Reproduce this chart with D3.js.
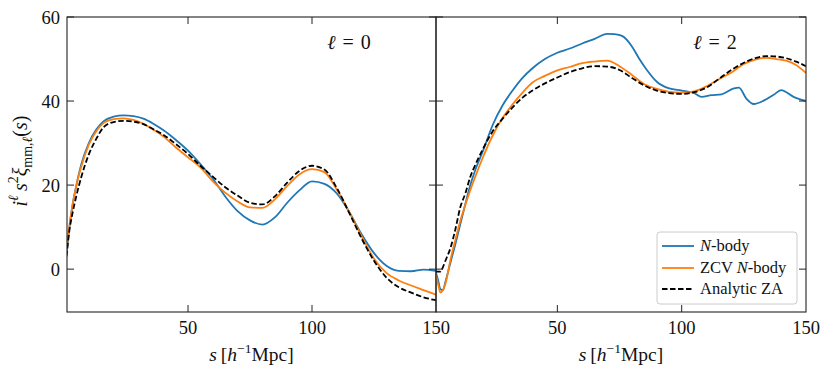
<!DOCTYPE html>
<html><head><meta charset="utf-8">
<script src="https://cdn.jsdelivr.net/npm/d3@7"></script>
<style>body{margin:0;background:#fff}svg{display:block}text{font-family:"Liberation Serif","DejaVu Serif",serif;fill:#111}</style>
</head><body><svg id="c" width="830" height="376"></svg>
<script>
// ---- data ----
const sMono = [1,2,3.5,5,7,10,13,16,20,24,28,32,36,40,45,50,55,60,65,70,75,80,85,90,95,100,105,110,115,120,125,130,135,140,145,150];
const nbodyMono = [3.5,9,15.5,20,25,30,33.2,35.2,36.3,36.6,36.4,35.8,34.6,33.1,30.8,28.2,25,21.5,17.3,13.8,11.6,10.6,12.3,15.8,18.8,20.9,20.3,18,13.6,8.3,3.8,0.8,-0.4,-0.5,-0.1,-0.4];
const zcvMono = [4,9.5,15.5,20,24.5,29.6,32.8,34.8,35.7,35.9,35.5,34.6,33.2,31.6,29,26.6,24.2,20.9,18.2,16.1,14.7,14.6,16.6,19.8,22.6,23.8,23.1,18.9,13.6,7.8,2.5,-0.9,-2.7,-3.9,-5,-6.1];
const zaMono = [3,8.5,13.5,17.5,22,27.3,31,33.8,35,35.3,35.1,34.5,33.3,32,29.8,27.4,24.6,22,19.5,17.5,15.8,15.4,17.3,20.6,23.4,24.6,23.7,19.3,13.4,7.3,2,-2,-4.3,-5.6,-6.7,-7.4];

const sNbodyQuad = [1,2,3,4,5,7,9,11,13,15,17,20,24,28,32,36,40,45,50,55,60,65,70,73,76,80,83,86,90,95,100,105,108,112,116,121,123,126,129,133,137,140,145,150];
const nbodyQuad = [-0.5,-2.5,-4.8,-5,-3,1.5,6,10.8,15.5,20,23.6,28,34.3,39,42.5,45.5,47.8,50,51.5,52.5,53.7,54.8,56,55.9,55.5,53,50,47.4,44.6,43,42.5,41.9,41,41.4,41.6,43,43.2,40.6,39.3,40.1,41.5,42.6,41,40];
const sQuad = [1,2,3,4,5,7,9,11,13,15,17,20,24,28,32,36,40,45,50,55,60,65,70,75,80,85,90,95,100,105,110,115,120,125,130,134,138,142,146,150];
const zcvQuad = [-1,-3.5,-5.6,-5,-3.5,2.2,7,11.6,15.3,18.8,22,26.5,31.8,36,39.2,42,44.4,46,47.3,48.1,49,49.4,49.6,48.3,46.2,44,42.9,42.2,42,42.3,43.5,45.2,46.8,48.8,49.9,50.3,50,49.6,48.6,46.7];
const zaQuad = [-0.5,-0.6,-0.6,0.5,2,5,9.5,14.8,18,22,24.8,28.5,32.8,35.8,38.5,40.8,42.5,44.2,45.6,46.9,47.8,48.3,48.2,47.4,45.5,43.7,42.5,41.9,41.7,42.1,43.2,45.3,47.4,49.1,50.3,50.7,50.6,50.2,49.4,48.3];

const xTicks = [50,100,150];
const yTicks = [0,20,40,60];
const panelLabels = ["0","2"];
const seriesNames = ["N-body","ZCV N-body","Analytic ZA"];
const colors = ["#1f77b4","#ff7f0e","#000000"];

// ---- layout ----
const svg = d3.select("#c");
const plotTop = 17, plotBottom = 312;
const panels = [
  {x0:67, x1:436, label:panelLabels[0], series:[[sMono,nbodyMono],[sMono,zcvMono],[sMono,zaMono]]},
  {x0:436, x1:806, label:panelLabels[1], series:[[sNbodyQuad,nbodyQuad],[sQuad,zcvQuad],[sQuad,zaQuad]]}
];
const y = d3.scaleLinear().domain([-10.2,60]).range([plotBottom,plotTop]);
const tickLen = 7;

panels.forEach((p,pi)=>{
  const x = d3.scaleLinear().domain([1.2,150]).range([p.x0,p.x1]);
  const g = svg.append("g");
  const cid = "clip"+pi;
  svg.append("clipPath").attr("id",cid).append("rect")
    .attr("x",p.x0).attr("y",plotTop).attr("width",p.x1-p.x0).attr("height",plotBottom-plotTop);
  const line = d3.line().curve(d3.curveMonotoneX).x(d=>x(d[0])).y(d=>y(d[1]));
  p.series.forEach((sr,si)=>{
    const pts = sr[0].map((s,i)=>[s,sr[1][i]]);
    g.append("path").attr("clip-path",`url(#${cid})`).attr("d",line(pts))
      .attr("fill","none").attr("stroke",colors[si]).attr("stroke-width",1.8)
      .attr("stroke-dasharray",si===2?"5.5,2.5":null);
  });
  g.append("rect").attr("x",p.x0).attr("y",plotTop).attr("width",p.x1-p.x0).attr("height",plotBottom-plotTop)
    .attr("fill","none").attr("stroke","#222").attr("stroke-width",1.1);
  const ax = g.append("g").attr("stroke","#222").attr("stroke-width",1);
  xTicks.forEach(t=>{
    if (t<150) {
      ax.append("line").attr("x1",x(t)).attr("x2",x(t)).attr("y1",plotBottom).attr("y2",plotBottom-tickLen);
      ax.append("line").attr("x1",x(t)).attr("x2",x(t)).attr("y1",plotTop).attr("y2",plotTop+tickLen);
    }
  });
  yTicks.forEach(t=>{
    ax.append("line").attr("x1",p.x0).attr("x2",p.x0+tickLen).attr("y1",y(t)).attr("y2",y(t));
    ax.append("line").attr("x1",p.x1).attr("x2",p.x1-tickLen).attr("y1",y(t)).attr("y2",y(t));
  });
  xTicks.forEach(t=>{
    g.append("text").attr("x",x(t)).attr("y",334).attr("text-anchor","middle")
      .attr("font-size",18.5).text(t);
  });
  const xl = g.append("text").attr("x",(p.x0+p.x1)/2).attr("y",361).attr("text-anchor","middle").attr("font-size",19.5);
  xl.append("tspan").attr("font-style","italic").text("s");
  xl.append("tspan").text("\u2009[");
  xl.append("tspan").attr("font-style","italic").text("h");
  xl.append("tspan").attr("font-size",13.5).attr("dy",-8).text("\u22121");
  xl.append("tspan").attr("dy",8).text("Mpc]");
  const pl = g.append("text").attr("x",p.x0+(pi===0?282:279)).attr("y",49).attr("text-anchor","middle")
    .attr("font-size",20).attr("word-spacing","2px");
  pl.append("tspan").attr("font-style","italic").text("\u2113");
  pl.append("tspan").text(" = " + p.label);
});

yTicks.forEach(t=>{
  svg.append("text").attr("x",60).attr("y",y(t)+6.5).attr("text-anchor","end").attr("font-size",18.5).text(t);
});

const yl = svg.append("text").attr("transform","translate(27,161) rotate(-90)").attr("text-anchor","middle").attr("font-size",20);
yl.append("tspan").attr("font-style","italic").text("i");
yl.append("tspan").attr("font-style","italic").attr("font-size",14).attr("dy",-9).text("\u2113");
yl.append("tspan").attr("font-style","italic").attr("dy",9).text("\u2009s");
yl.append("tspan").attr("font-size",14).attr("dy",-9).text("2");
yl.append("tspan").attr("font-style","italic").attr("dy",9).text("\u03be");
yl.append("tspan").attr("font-size",14).attr("dy",5).text("mm,");
yl.append("tspan").attr("font-size",14).attr("font-style","italic").text("\u2113");
yl.append("tspan").attr("dy",-5).text("(");
yl.append("tspan").attr("font-style","italic").text("s");
yl.append("tspan").text(")");

const lg = svg.append("g");
lg.append("rect").attr("x",657).attr("y",232).attr("width",140).attr("height",72).attr("rx",3)
  .attr("fill","#fff").attr("fill-opacity",0.85).attr("stroke","#ccc").attr("stroke-width",1);
const rowsY = [246,268,289];
seriesNames.forEach((n,i)=>{
  lg.append("line").attr("x1",662).attr("x2",694).attr("y1",rowsY[i]).attr("y2",rowsY[i])
    .attr("stroke",colors[i]).attr("stroke-width",1.8).attr("stroke-dasharray",i===2?"5.5,2.5":null);
  const t = lg.append("text").attr("x",700).attr("y",rowsY[i]+5).attr("font-size",16.5);
  if (i===0){ t.append("tspan").attr("font-style","italic").text("N"); t.append("tspan").text("-body"); }
  else if (i===1){ t.append("tspan").text("ZCV "); t.append("tspan").attr("font-style","italic").text("N"); t.append("tspan").text("-body"); }
  else t.text(n);
});
</script></body></html>
